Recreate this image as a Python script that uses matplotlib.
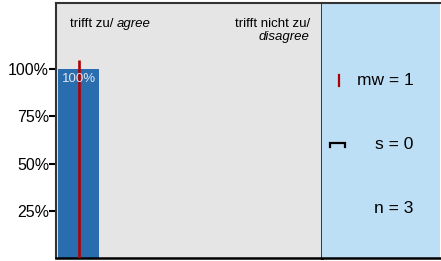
import matplotlib
matplotlib.use("Agg")
import matplotlib.pyplot as plt
from matplotlib.lines import Line2D

plt.rcParams['font.family'] = ['Liberation Sans', 'DejaVu Sans']

categories = ["trifft zu/ agree", "trifft nicht zu/ disagree"]
values = [100, 0]          # percent
bar_labels = ["100%", ""]
mean_value = 1
sd_value = 0
n_value = 3
mean_line_top = 104.8
yticks = [25, 50, 75, 100]
ytick_labels = ["25%", "50%", "75%", "100%"]

W, H = 441, 261
fig = plt.figure(figsize=(W / 100, H / 100), dpi=100)

ax = fig.add_axes([56 / W, 3 / H, (322 - 56) / W, (258 - 3) / H])
ax.set_facecolor("#E5E5E5")
xpos = list(range(len(categories)))
ax.bar(xpos, values, width=0.186, color="#2A6DAE", zorder=2)
ax.set_xlim(-0.102, 1.102)
ax.set_ylim(0, 135)
for x, v, lab in zip(xpos, values, bar_labels):
    if lab:
        ax.text(x, v - 5, lab, ha="center", va="center", color="#E0E6EE",
                fontsize=9.5, zorder=4)
ax.vlines(mean_value - 1, 0, mean_line_top, color="#B00000", lw=1.9, zorder=3)

t1 = ax.text(-0.038, 124, "trifft zu/ ", ha="left", va="center", fontsize=9.5)
ax.annotate("agree", xy=(1, 0.5), xycoords=t1, ha="left", va="center",
            fontsize=9.5, style="italic")
ax.text(1.047, 124, "trifft nicht zu/", ha="right", va="center", fontsize=9.5)
ax.text(1.047, 116.8, "disagree", ha="right", va="center", fontsize=9.5, style="italic")

ax.set_xticks([])
ax.set_yticks(yticks)
ax.set_yticklabels(ytick_labels, fontsize=11.5)
ax.tick_params(axis="y", direction="out", length=5, width=1.5, pad=0)
for s in ["left", "top"]:
    ax.spines[s].set_color("#333333")
    ax.spines[s].set_linewidth(1.5)
ax.spines["bottom"].set_color("black")
ax.spines["bottom"].set_linewidth(1.8)
ax.spines["right"].set_color("black")
ax.spines["right"].set_linewidth(1.8)

ax2 = fig.add_axes([322 / W, 3 / H, (440 - 322) / W, (258 - 3) / H])
ax2.set_facecolor("#BDDFF5")
ax2.set_xlim(0, 1)
ax2.set_ylim(0, 1)
ax2.set_xticks([])
ax2.set_yticks([])
ax2.spines["top"].set_color("#333333")
ax2.spines["top"].set_linewidth(1.5)
ax2.spines["bottom"].set_color("black")
ax2.spines["bottom"].set_linewidth(1.8)
ax2.spines["left"].set_visible(False)
ax2.spines["right"].set_visible(False)

ax2.text(0.775, 0.698, f"mw = {mean_value}", ha="right", va="center", fontsize=12.5)
ax2.text(0.775, 0.447, f"s = {sd_value}", ha="right", va="center", fontsize=12.5)
ax2.text(0.775, 0.196, f"n = {n_value}", ha="right", va="center", fontsize=12.5)
ax2.add_line(Line2D([0.145, 0.145], [0.675, 0.718], color="#B00000", lw=1.6))
ax2.add_line(Line2D([0.07, 0.07, 0.195, 0.195], [0.437, 0.451, 0.451, 0.437],
                    color="black", lw=1.6, solid_joinstyle="miter"))

fig.savefig("out.png", dpi=100)
